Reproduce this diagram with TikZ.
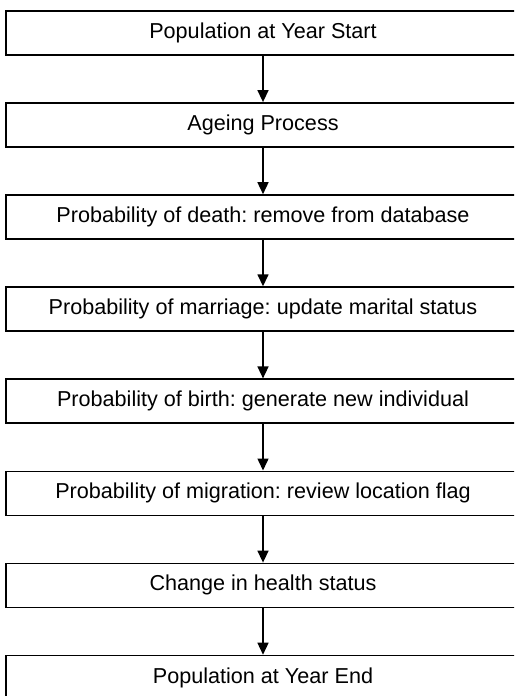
\documentclass[tikz,border=0pt]{standalone}
\usepackage{fontspec}
\setmainfont{Liberation Sans}
\usetikzlibrary{arrows.meta}
\frenchspacing
\begin{document}
\begin{tikzpicture}[x=0.5pt,y=-0.5pt,
  procbox/.style={draw=black, line width=0.75pt, fill=white, minimum width=257pt, minimum height=22pt, inner sep=0pt, anchor=north, font=\fontsize{10.8pt}{12pt}\selectfont\frenchspacing},
  flow/.style={line width=0.75pt, -{Triangle[width=5.5pt,length=6pt]}}]
\useasboundingbox (0,0) rectangle (514,696);
\fill[white] (0,0) rectangle (514,696);
\clip (0,0) rectangle (514,696);
\node[procbox] (b1) at (263,10) {Population at Year Start};
\node[procbox] (b2) at (263,102.1) {Ageing Process};
\node[procbox] (b3) at (263,194.2) {Probability of death: remove from database};
\node[procbox] (b4) at (263,286.3) {Probability of marriage: update marital status};
\node[procbox] (b5) at (263,378.4) {Probability of birth: generate new individual};
\node[procbox] (b6) at (263,470.5) {Probability of migration: review location flag};
\node[procbox] (b7) at (263,562.6) {Change in health status};
\node[procbox] (b8) at (263,654.7) {Population at Year End};
\foreach \a/\b in {b1/b2,b2/b3,b3/b4,b4/b5,b5/b6,b6/b7,b7/b8}
  \draw[flow] (\a) -- (\b);
\end{tikzpicture}
\end{document}
